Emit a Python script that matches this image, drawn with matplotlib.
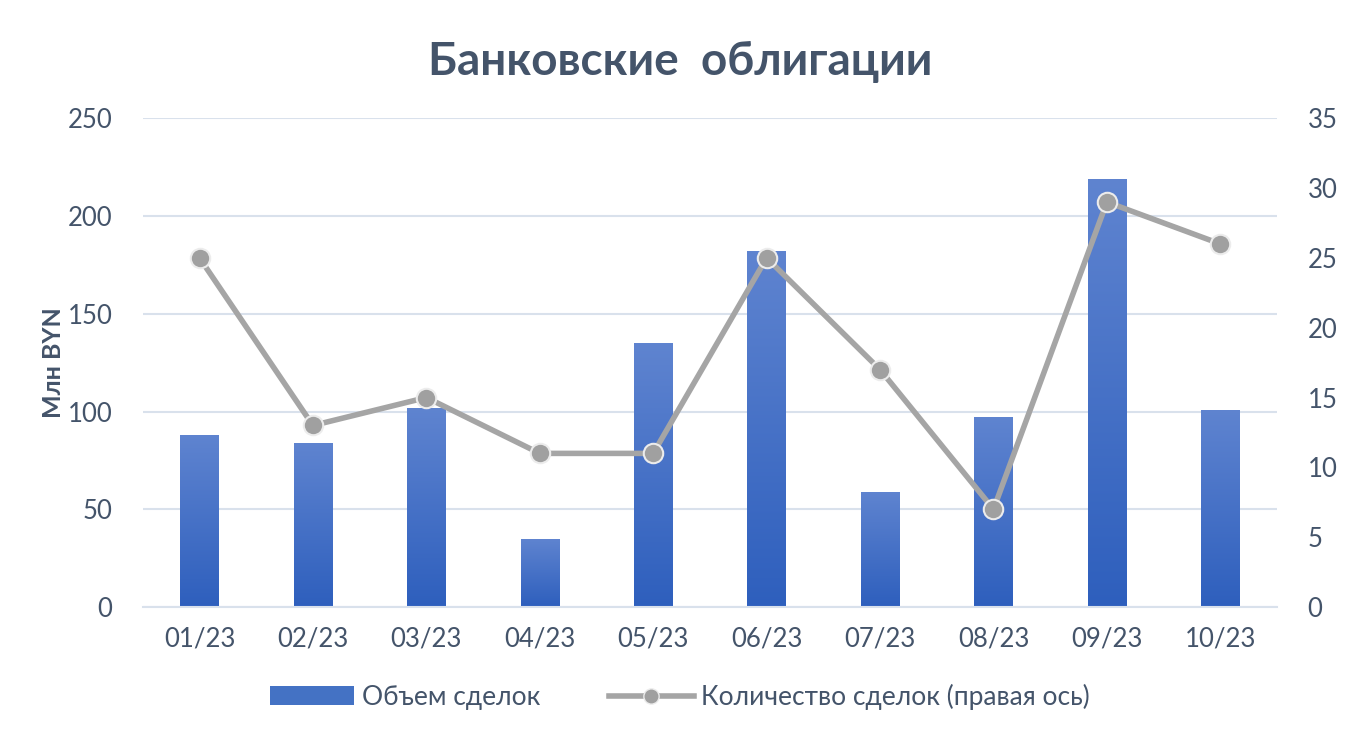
import matplotlib.pyplot as plt
import numpy as np
from matplotlib.colors import LinearSegmentedColormap
from matplotlib.lines import Line2D
from matplotlib.patches import Patch

plt.rcParams['font.family'] = ['Lato', 'DejaVu Sans']

# Donnees
mois = ["01/23", "02/23", "03/23", "04/23", "05/23", "06/23", "07/23", "08/23", "09/23", "10/23"]
volume = [88, 84, 102, 35, 135, 182, 59, 97, 219, 101]       # Млн BYN
nombre = [25, 13, 15, 11, 11, 25, 17, 7, 29, 26]             # droite

texte = "#44546a"
grille = "#d9e1ec"
gris = "#a5a5a5"

fig = plt.figure(figsize=(13.6, 7.39), dpi=100)
ax = fig.add_axes([0.105, 0.1786, 0.834, 0.6614])
ax2 = ax.twinx()

x = np.arange(len(mois))
barres = ax.bar(x, volume, width=0.34, color="#4472c4", zorder=2)

# degrade vertical dans chaque barre
cmap = LinearSegmentedColormap.from_list("bleu", ["#2e5fbd", "#5f84d0"])
grad = np.linspace(0, 1, 256).reshape(-1, 1)
for b in barres:
    x0, y0 = b.get_x(), b.get_y()
    w, h = b.get_width(), b.get_height()
    im = ax.imshow(grad, cmap=cmap, aspect="auto", origin="lower",
                   extent=[x0, x0 + w, y0, y0 + h], zorder=2)
    im.set_clip_path(b)
    b.set_facecolor("none")

ax2.plot(x, nombre, color=gris, lw=4, marker="o", markersize=14,
         markerfacecolor="#a0a0a0", markeredgecolor="#ececec", markeredgewidth=1.5,
         solid_capstyle="round", zorder=3)

ax.set_xlim(-0.5, len(mois) - 0.5)
ax.set_ylim(0, 250)
ax.set_yticks(range(0, 251, 50))
ax2.set_ylim(0, 35)
ax2.set_yticks(range(0, 36, 5))
ax.set_xticks(x)
ax.set_xticklabels(mois)

ax.grid(axis="y", color=grille, lw=1.5, zorder=0)
ax.set_axisbelow(True)
for a in (ax, ax2):
    for s in a.spines.values():
        s.set_visible(False)
    a.tick_params(length=0, labelsize=18.5, colors=texte)
ax.spines["bottom"].set_visible(True)
ax.spines["bottom"].set_color(grille)
ax.spines["bottom"].set_linewidth(1.5)
ax.tick_params(axis="x", pad=14)
ax.tick_params(axis="y", pad=22)
ax2.tick_params(axis="y", pad=22)
ax2.set_zorder(ax.get_zorder() + 1)
ax2.patch.set_visible(False)

ax.set_ylabel("Млн BYN", fontsize=18, color=texte, fontweight="bold", labelpad=2)
fig.suptitle("Банковские  облигации", fontsize=33, fontweight="bold", color=texte, y=0.945)

poignees = [Patch(facecolor="#4472c4", edgecolor="none"),
            Line2D([0], [0], color=gris, lw=4, marker="o", markersize=11,
                   markerfacecolor="#a0a0a0", markeredgecolor="#ececec")]
fig.legend(poignees, ["Объем сделок", "Количество сделок (правая ось)"],
           loc="center", bbox_to_anchor=(0.5, 0.057), ncol=2, frameon=False,
           fontsize=19, labelcolor=texte, handlelength=3.2, columnspacing=2.6,
           handletextpad=0.3)

fig.savefig("out.png", dpi=100)
